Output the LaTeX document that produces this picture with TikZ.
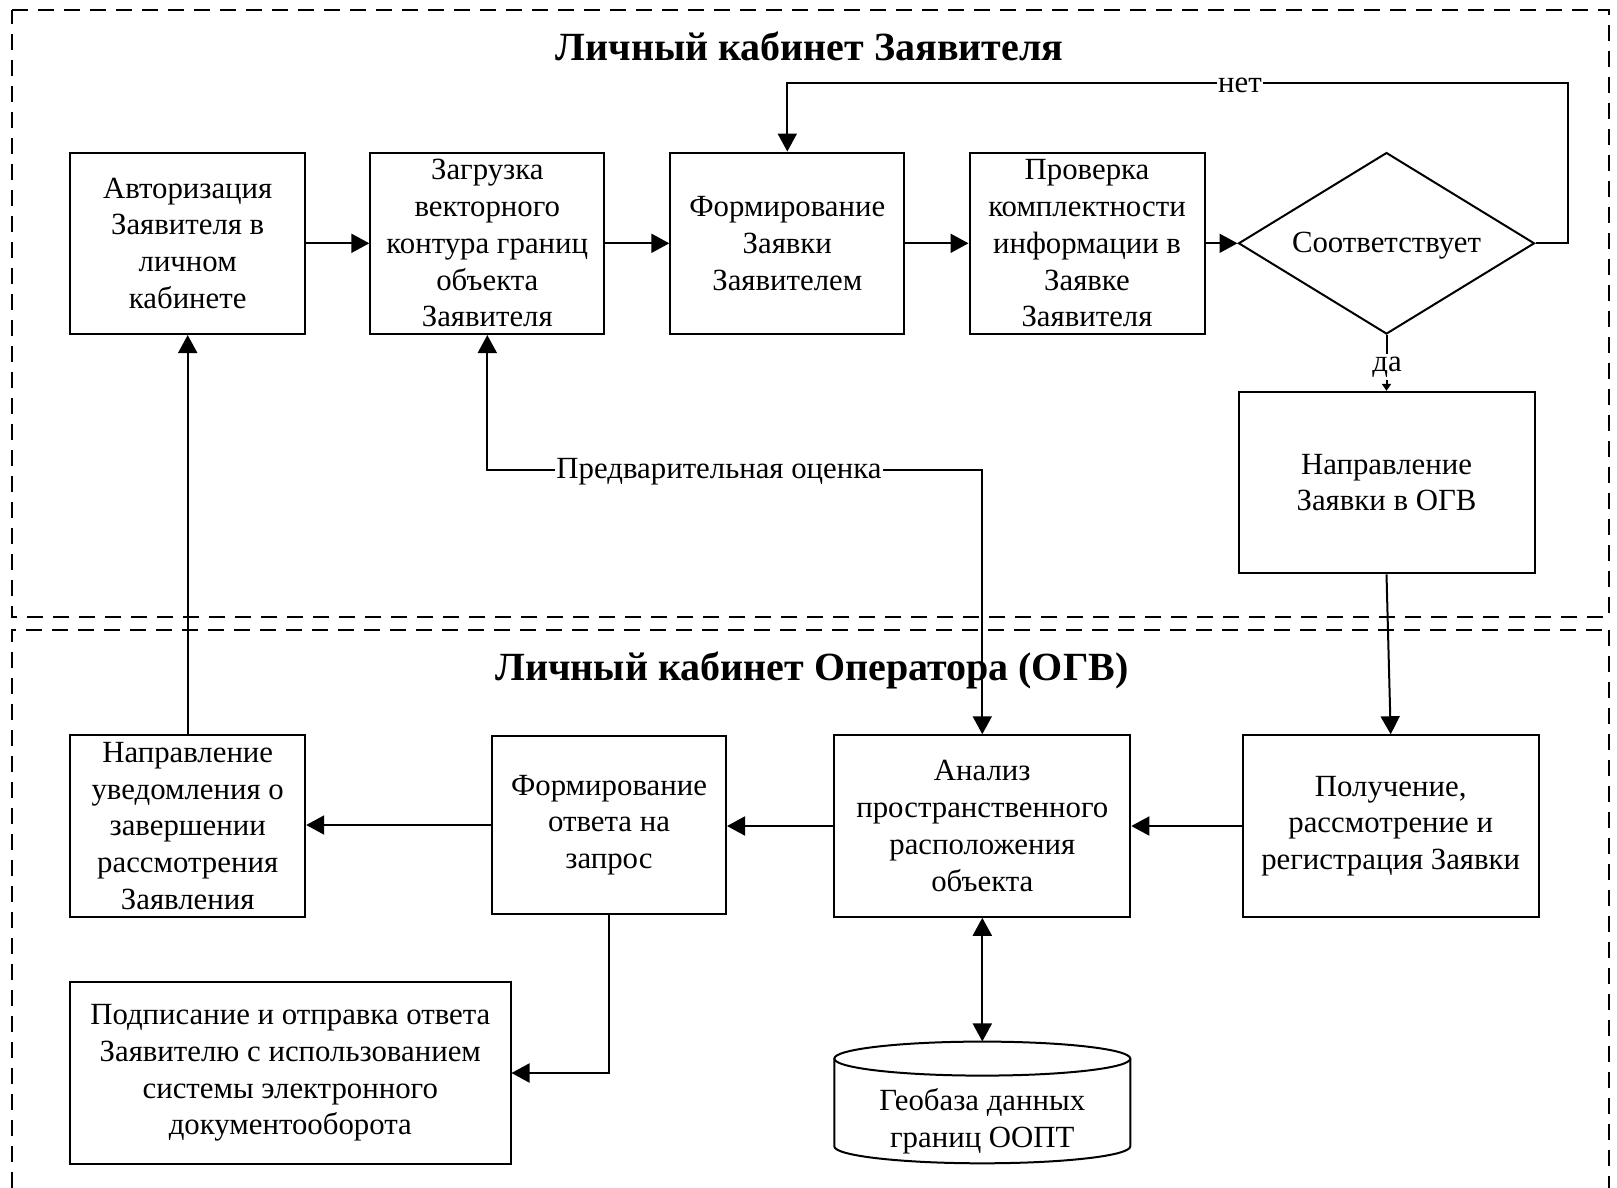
\documentclass[tikz,border=0pt]{standalone}
\usepackage{fontspec}
\setmainfont{Liberation Serif}
\usetikzlibrary{arrows.meta,shapes.geometric}
\begin{document}
\begin{tikzpicture}[x=1pt,y=-1pt,
  box/.style={draw,line width=2pt,rectangle,inner sep=0pt,align=center,
    font=\fontsize{30.8}{36.8}\selectfont},
  dia/.style={draw,line width=2pt,diamond,inner sep=0pt,align=center,
    font=\fontsize{30.8}{36.8}\selectfont},
  lbl/.style={fill=white,inner sep=1pt,font=\fontsize{30.8}{36.8}\selectfont},
  ttl/.style={font=\fontsize{40}{46}\selectfont\bfseries},
  conn/.style={line width=2pt,-{Triangle[length=18pt,width=19pt]}},
  conn2/.style={line width=2pt,{Triangle[length=18pt,width=19pt]}-{Triangle[length=18pt,width=19pt]}},
  frame/.style={line width=2.2pt,dash pattern=on 16pt off 10pt}
]
\useasboundingbox (0,0) rectangle (1617,1188);
% frames
\draw[frame] (12,1188) -- (12,630) -- (1609,630);
\draw[frame] (1609,630) -- (1609,1188);
\draw[frame] (12,10) -- (1609,10) -- (1609,617) -- (12,617) -- cycle;
% titles
\node[ttl] (t1) at (809.5,46) {Личный кабинет Заявителя};
\node[ttl] (t2) at (812,670) {Личный кабинет Оператора (ОГВ)};
% row 1
\node[box,minimum width=235pt,minimum height=181.5pt] (A) at (187.7,243.3)
  {Авторизация\\Заявителя в\\личном\\кабинете};
\node[box,minimum width=234pt,minimum height=181.5pt] (B) at (487.3,243.3)
  {Загрузка\\векторного\\контура границ\\объекта\\Заявителя};
\node[box,minimum width=234pt,minimum height=181.5pt] (C) at (787.3,243.3)
  {Формирование\\Заявки\\Заявителем};
\node[box,minimum width=235pt,minimum height=181.5pt] (D) at (1087,243.3)
  {Проверка\\комплектности\\информации в\\Заявке\\Заявителя};
\node[dia,minimum width=296pt,minimum height=181.5pt,aspect=1.63] (S) at (1386.5,243.3) {};
\node[font=\fontsize{30.8}{36.8}\selectfont] (St) at (1386.5,246) {Соответствует};
\node[box,minimum width=296pt,minimum height=181.5pt] (E) at (1386.5,482.6)
  {Направление\\Заявки в ОГВ};
% row 2
\node[box,minimum width=235pt,minimum height=181.5pt] (F) at (187.7,826)
  {Направление\\уведомления о\\завершении\\рассмотрения\\Заявления};
\node[box,minimum width=234pt,minimum height=178pt] (G) at (609,825)
  {Формирование\\ответа на\\запрос};
\node[box,minimum width=296pt,minimum height=181.5pt] (H) at (982.3,826)
  {Анализ\\пространственного\\расположения\\объекта};
\node[box,minimum width=296pt,minimum height=181.5pt] (I) at (1390.7,826)
  {Получение,\\рассмотрение и\\регистрация Заявки};
\node[box,minimum width=440.4pt,minimum height=182.5pt] (J) at (290.3,1073)
  {Подписание и отправка ответа\\Заявителю с использованием\\системы электронного\\документооборота};
% cylinder
\draw[line width=2pt,fill=white] (834.3,1058.6) -- (834.3,1146.3)
  arc[start angle=180,end angle=360,x radius=148pt,y radius=17pt] -- (1130.3,1058.6);
\draw[line width=2pt] (982.3,1058.6) ellipse[x radius=148pt,y radius=17pt];
\node[inner sep=0pt,minimum width=296pt,minimum height=121.7pt] (K) at (982.3,1102.5) {};
\node[align=center,font=\fontsize{30.8}{36.8}\selectfont] (Kt) at (982.3,1121)
  {Геобаза данных\\границ ООПТ};
% connectors row 1
\draw[conn] (A) -- (B);
\draw[conn] (B) -- (C);
\draw[conn] (C) -- (D);
\draw[conn] (D) -- (S);
\coordinate (n1) at (1567.5,243.3);
\coordinate (n2) at (1567.5,83.5);
\draw[conn] (S.east) -- (n1) -- (n2) -| (C.north);
\node[lbl] (net) at (1240,85) {нет};
\draw[line width=2pt,-{Triangle[length=7pt,width=9pt]}] (S.south) -- (E.north);
\node[lbl,inner sep=3pt] (da) at (1387,367) {да};
\draw[line width=2pt,-{Triangle[length=18pt,width=19pt]}] (E.south) -- (I.north);
% row 2
\draw[conn] (I.west) -- (H.east);
\draw[conn] (H.west) -- (G.east |- H.west);
\draw[conn] (G.west) -- (F.east |- G.west);
\draw[conn] (G.south) |- (J.east);
\draw[conn] (F.north) -- (A.south);
\coordinate (p1) at (487.3,470.2);
\coordinate (p2) at (982.3,470.2);
\draw[conn2] (B.south) -- (p1) -- (p2) -- (H.north);
\node[lbl] (po) at (719,472) {Предварительная оценка};
\draw[conn2] (H.south) -- (K.north);
\end{tikzpicture}
\end{document}
